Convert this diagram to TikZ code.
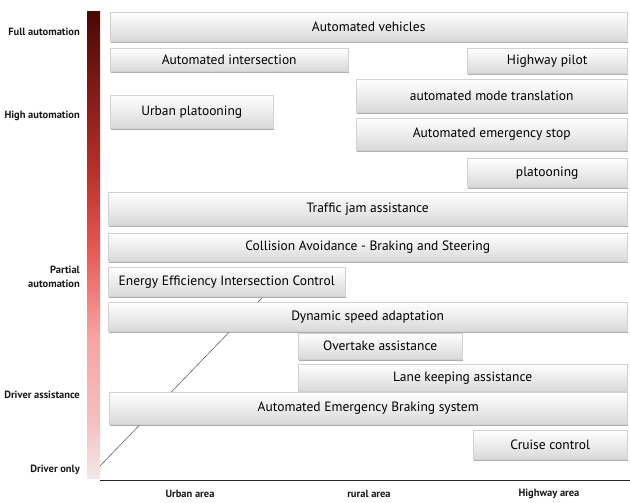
\documentclass[tikz,border=0pt]{standalone}
\usepackage{fontspec}
\setmainfont{PT Sans}
\usetikzlibrary{shadows}
\definecolor{bartop}{HTML}{4A0804}
\definecolor{barred}{HTML}{B8302A}
\definecolor{barmid}{HTML}{E65550}
\definecolor{barpink}{HTML}{F8A4A4}
\definecolor{barlow}{HTML}{F2E8E8}
\pgfdeclareverticalshading{autobar}{100bp}{color(0bp)=(barlow); color(25bp)=(barlow); color(31bp)=(barpink!60!barlow); color(40bp)=(barpink); color(50bp)=(barmid); color(58bp)=(barred); color(75bp)=(bartop); color(100bp)=(bartop)}
\tikzset{
	featbox/.style={draw=black!18, top color=white, bottom color=black!15, anchor=north west, inner sep=0pt, font=\fontsize{13.5}{15}\selectfont, text=black, drop shadow={shadow xshift=1.2pt, shadow yshift=-1.6pt, fill=black!45, opacity=0.7}},
	levellabel/.style={anchor=east, align=right, inner sep=0pt, font=\fontsize{10.5}{14}\selectfont\bfseries, text=black!90},
	arealabel/.style={font=\fontsize{10.5}{12}\selectfont\bfseries, text=black!90},
}
\newcommand{\featbox}[6]{\node[featbox, minimum width=#4-#2, minimum height=#5-#3] (#1) at (#2,#3) {#6};}
\begin{document}
\begin{tikzpicture}[x=1pt, y=-1pt]
	\useasboundingbox (0,0) rectangle (630,503);
	\shade[shading=autobar] (87,12) rectangle (100,478);
	\coordinate (o) at (100,480);
	\coordinate (e) at (630,480);
	\coordinate (d1) at (100,466);
	\coordinate (d2) at (262,298);
	\draw[black!60, line width=0.6pt] (d1) -- (d2);
	\draw[black!85, line width=0.8pt] (o) -- (e);

	\node[levellabel] (full) at (80,32) {Full automation};
	\node[levellabel] (high) at (80,116) {High automation};
	\node[levellabel] (partial) at (80,277) {Partial\\automation};
	\node[levellabel] (assist) at (80,395) {Driver assistance};
	\node[levellabel] (only) at (80,470) {Driver only};

	\node[arealabel] (urban) at (190,494) {Urban area};
	\node[arealabel] (rural) at (369,494) {rural area};
	\node[arealabel] (highway) at (549,494) {Highway area};

	\featbox{vehicles}{110}{12}{627}{41}{Automated vehicles}
	\featbox{intersection}{110}{48}{348}{71}{Automated intersection}
	\featbox{pilot}{467}{48}{627}{73}{Highway pilot}
	\featbox{mode}{356}{79}{627}{112}{automated mode translation}
	\featbox{urbanplat}{110}{95}{273}{128}{Urban platooning}
	\featbox{stop}{356}{118}{627}{150}{Automated emergency stop}
	\featbox{plat}{467}{158}{627}{187}{platooning}
	\featbox{jam}{108}{192}{627}{225}{Traffic jam assistance}
	\featbox{collision}{108}{233}{627}{261}{Collision Avoidance - Braking and Steering}
	\featbox{energy}{108}{267}{345}{296}{Energy Efficiency Intersection Control}
	\featbox{speed}{108}{302}{627}{331}{Dynamic speed adaptation}
	\featbox{overtake}{298}{333}{462}{359}{Overtake assistance}
	\featbox{lane}{298}{364}{627}{391}{Lane keeping assistance}
	\featbox{braking}{109}{392}{627}{424}{Automated Emergency Braking system}
	\featbox{cruise}{473}{430}{627}{459}{Cruise control}
\end{tikzpicture}
\end{document}
